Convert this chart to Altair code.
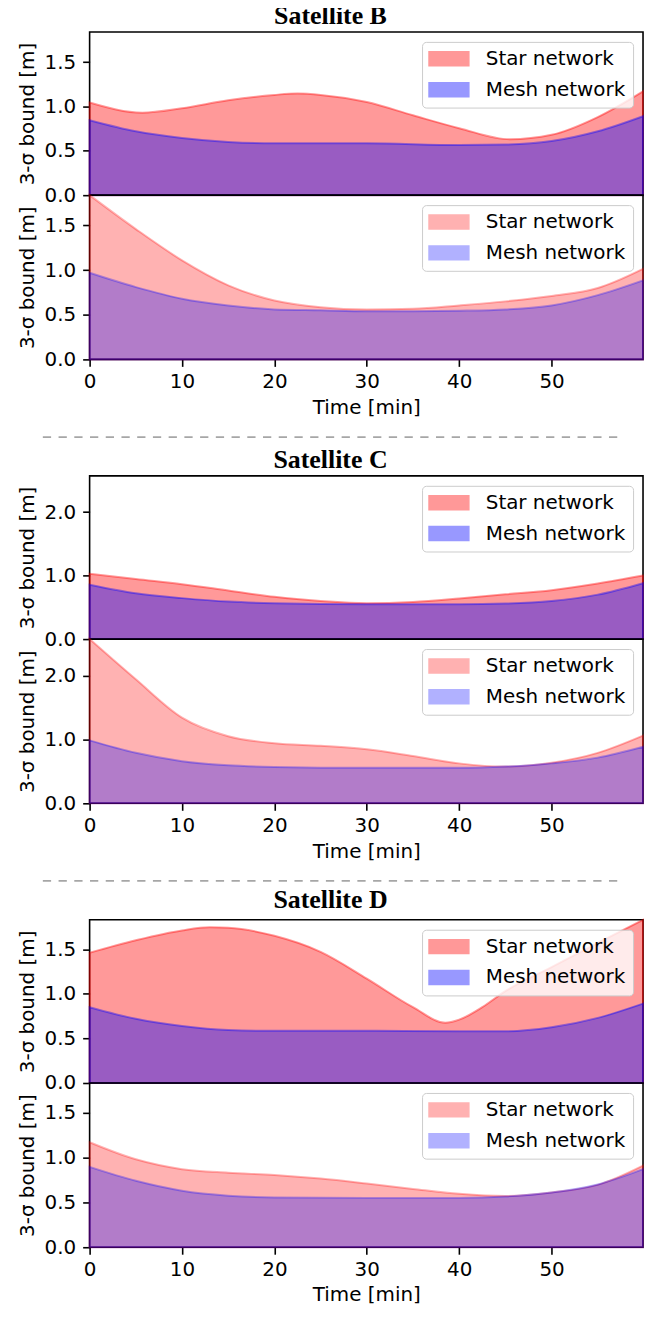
import altair as alt
import pandas as pd

T_MAX = 59.9
SERIES = ["Star network", "Mesh network"]
X_TICKS = [0, 10, 20, 30, 40, 50]

# ---------------- Satellite B ----------------
b_top_star_t = [0, 5.7, 10, 15, 20, 22.5, 25, 30, 35, 40, 45.5, 50, 55, 59.9]
b_top_star_v = [1.045, 0.93, 0.98, 1.07, 1.13, 1.145, 1.13, 1.05, 0.90, 0.755, 0.63, 0.68, 0.88, 1.17]
b_top_mesh_t = [0, 5, 10, 15, 20, 30, 40, 45, 50, 55, 59.9]
b_top_mesh_v = [0.845, 0.72, 0.645, 0.60, 0.585, 0.585, 0.565, 0.57, 0.61, 0.72, 0.89]

b_bot_star_t = [0, 5, 10, 15, 20, 25, 30, 35, 40, 45, 50, 55, 59.9]
b_bot_star_v = [1.84, 1.46, 1.11, 0.83, 0.66, 0.585, 0.56, 0.567, 0.605, 0.65, 0.71, 0.80, 1.015]
b_bot_mesh_t = [0, 5, 10, 15, 20, 25, 30, 35, 40, 45, 50, 55, 59.9]
b_bot_mesh_v = [0.97, 0.81, 0.68, 0.605, 0.56, 0.55, 0.54, 0.54, 0.545, 0.56, 0.605, 0.72, 0.885]

# ---------------- Satellite C ----------------
c_top_star_t = [0, 5, 10, 15, 20, 25, 30, 35, 40, 45, 50, 55, 59.9]
c_top_star_v = [1.03, 0.945, 0.865, 0.765, 0.665, 0.60, 0.565, 0.585, 0.64, 0.705, 0.77, 0.875, 1.0]
c_top_mesh_t = [0, 5, 10, 15, 20, 30, 40, 45, 50, 55, 59.9]
c_top_mesh_v = [0.855, 0.72, 0.645, 0.59, 0.565, 0.55, 0.55, 0.56, 0.60, 0.70, 0.88]

c_bot_star_t = [0, 5, 10, 15, 20, 25, 30, 35, 40, 45, 50, 55, 59.9]
c_bot_star_v = [2.57, 1.94, 1.34, 1.05, 0.94, 0.90, 0.845, 0.74, 0.625, 0.575, 0.635, 0.79, 1.06]
c_bot_mesh_t = [0, 5, 10, 15, 20, 30, 40, 45, 50, 55, 59.9]
c_bot_mesh_v = [0.985, 0.79, 0.66, 0.595, 0.57, 0.555, 0.555, 0.575, 0.625, 0.715, 0.885]

# ---------------- Satellite D ----------------
d_top_star_t = [0, 5, 10, 13, 15, 20, 25, 30, 35, 38.5, 40, 42.5, 45, 50, 55, 59.9]
d_top_star_v = [1.46, 1.60, 1.71, 1.745, 1.74, 1.65, 1.47, 1.17, 0.85, 0.675, 0.71, 0.85, 1.03, 1.30, 1.57, 1.83]
d_top_mesh_t = [0, 5, 10, 15, 20, 30, 40, 45, 50, 55, 59.9]
d_top_mesh_v = [0.85, 0.72, 0.64, 0.595, 0.585, 0.585, 0.58, 0.58, 0.625, 0.73, 0.89]

d_bot_star_t = [0, 5, 10, 15, 20, 25, 30, 35, 40, 45, 50, 55, 59.9]
d_bot_star_v = [1.17, 0.98, 0.87, 0.83, 0.805, 0.765, 0.71, 0.65, 0.595, 0.57, 0.61, 0.695, 0.91]
d_bot_mesh_t = [0, 5, 10, 15, 20, 30, 40, 45, 50, 55, 59.9]
d_bot_mesh_v = [0.895, 0.74, 0.63, 0.575, 0.555, 0.55, 0.55, 0.565, 0.61, 0.70, 0.87]

Y_MAX = {"B": 1.84, "C": 2.57, "D": 1.83}
Y_TICKS = {"B": [0, 0.5, 1.0, 1.5], "C": [0, 1.0, 2.0], "D": [0, 0.5, 1.0, 1.5]}

FONT = "DejaVu Sans"
PLOT_W = 556
TOP_H = 164
BOT_H = 165
SEP_H = 117

# legend patch: 40 x 14 px rectangle (scale = sqrt(size)/2 = 9)
SYM = "M-1.111,-0.778H3.333V0.778H-1.111Z"


def panel(star_t, star_v, mesh_t, mesh_v, ymax, yticks, alpha, show_x, height, title_text=None):
    df = pd.DataFrame({
        "t": list(star_t) + list(mesh_t),
        "v": list(star_v) + list(mesh_v),
        "s": [SERIES[0]] * len(star_t) + [SERIES[1]] * len(mesh_t),
    })
    cscale = alt.Scale(domain=SERIES, range=["#ff0000", "#0000ff"])
    legend = alt.Legend(
        title=None, orient="top-right", offset=10, padding=7,
        fillColor="rgba(255,255,255,0.8)", strokeColor="#cccccc", cornerRadius=4,
        labelFont=FONT, labelFontSize=20, labelColor="black", labelOffset=37,
        rowPadding=9, symbolType=SYM, symbolSize=324, symbolStrokeWidth=1.5,
        symbolOpacity=alpha,
    )
    if show_x:
        xaxis = alt.Axis(values=X_TICKS, title="Time [min]", format="d", labelFlush=False)
    else:
        xaxis = None
    yaxis = alt.Axis(values=yticks, format=".1f", title="3-σ bound [m]")
    base = alt.Chart(df)

    def layer(name):
        return base.transform_filter(alt.datum.s == name).mark_area(
            interpolate="monotone", fillOpacity=alpha, strokeOpacity=alpha, strokeWidth=2
        ).encode(
            x=alt.X("t:Q", scale=alt.Scale(domain=[0, T_MAX], nice=False, zero=False), axis=xaxis),
            y=alt.Y("v:Q", scale=alt.Scale(domain=[0, ymax], nice=False), axis=yaxis, stack=None),
            fill=alt.Fill("s:N", scale=cscale, legend=legend),
            stroke=alt.Stroke("s:N", scale=cscale, legend=legend),
        )

    ch = alt.layer(layer(SERIES[0]), layer(SERIES[1]))
    props = dict(width=PLOT_W, height=height)
    if title_text:
        props["title"] = alt.TitleParams(
            text=title_text, font="Liberation Serif", fontSize=26, fontWeight="bold",
            color="black", anchor="middle", dx=-36, offset=-18, baseline="alphabetic",
        )
    return ch.properties(**props)


def separator():
    return alt.Chart(pd.DataFrame({"k": [0]})).mark_rule(
        color="#a6a6a6", strokeWidth=1.8, strokeDash=[8.3, 7.5]
    ).encode(
        x=alt.value(-47), x2=alt.value(532), y=alt.value(78)
    ).properties(width=PLOT_W, height=SEP_H, view=alt.ViewBackground(stroke="transparent"))


charts = [
    panel(b_top_star_t, b_top_star_v, b_top_mesh_t, b_top_mesh_v, Y_MAX["B"], Y_TICKS["B"], 0.4, False, TOP_H, "Satellite B"),
    panel(b_bot_star_t, b_bot_star_v, b_bot_mesh_t, b_bot_mesh_v, Y_MAX["B"], Y_TICKS["B"], 0.3, True, BOT_H),
    separator(),
    panel(c_top_star_t, c_top_star_v, c_top_mesh_t, c_top_mesh_v, Y_MAX["C"], Y_TICKS["C"], 0.4, False, TOP_H, "Satellite C"),
    panel(c_bot_star_t, c_bot_star_v, c_bot_mesh_t, c_bot_mesh_v, Y_MAX["C"], Y_TICKS["C"], 0.3, True, BOT_H),
    separator(),
    panel(d_top_star_t, d_top_star_v, d_top_mesh_t, d_top_mesh_v, Y_MAX["D"], Y_TICKS["D"], 0.4, False, TOP_H, "Satellite D"),
    panel(d_bot_star_t, d_bot_star_v, d_bot_mesh_t, d_bot_mesh_v, Y_MAX["D"], Y_TICKS["D"], 0.3, True, BOT_H),
]

chart = alt.vconcat(*charts, spacing=0, bounds="flush").resolve_scale(
    x="independent", y="independent", fill="independent", stroke="independent"
).resolve_legend(
    fill="independent", stroke="independent"
).resolve_axis(
    x="independent", y="independent"
).properties(
    padding={"top": -9, "left": 8, "right": 0, "bottom": -2},
    background="white",
).configure_view(
    stroke="black", strokeWidth=1.6
).configure_axis(
    domain=False, grid=False, tickColor="black", tickSize=7, tickWidth=1.6,
    labelColor="black", labelFont=FONT, labelFontSize=20,
    titleColor="black", titleFont=FONT, titleFontSize=20, titleFontWeight="normal",
).configure_axisX(
    labelPadding=5, titlePadding=6,
).configure_axisY(
    labelPadding=7, titlePadding=7,
)

chart.save("out.html", embed_options={"renderer": "svg", "actions": False})
